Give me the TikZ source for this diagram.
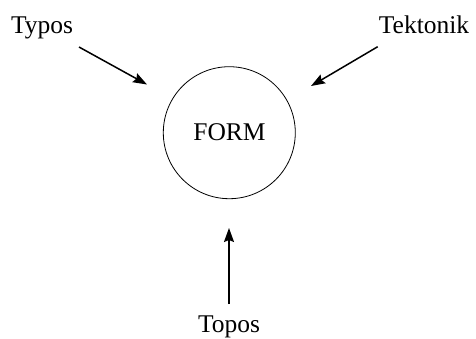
\documentclass[tikz,border=0pt]{standalone}
\usepackage{fontspec}
\setmainfont{Liberation Serif}
\usetikzlibrary{arrows.meta}
\begin{document}
\begin{tikzpicture}[x=1pt,y=-1pt,
  lbl/.style={anchor=base,inner sep=0pt,font=\fontsize{25.5}{30}\selectfont},
  arr/.style={line width=1.5pt,-{Stealth[length=14pt,width=10pt,inset=2pt]}}]
\useasboundingbox (0,0) rectangle (476,338);
\node[draw,circle,line width=0.8pt,minimum size=132pt,inner sep=0pt] (form) at (229.3,132.7) {};
\node[lbl] (formtxt) at (229.5,140.7) {FORM};
\node[lbl] (typos) at (42,33) {Typos};
\node[lbl] (tekt) at (424,33) {Tektonik};
\node[lbl] (topos) at (229,332) {Topos};
\coordinate (typosS) at (79,47);
\coordinate (typosE) at (147,84.5);
\coordinate (tektS) at (377.7,46.7);
\coordinate (tektE) at (311,86);
\coordinate (toposS) at (229,304);
\coordinate (toposE) at (229,228);
\draw[arr] (typosS) -- (typosE);
\draw[arr] (tektS) -- (tektE);
\draw[arr] (toposS) -- (toposE);
\end{tikzpicture}
\end{document}
